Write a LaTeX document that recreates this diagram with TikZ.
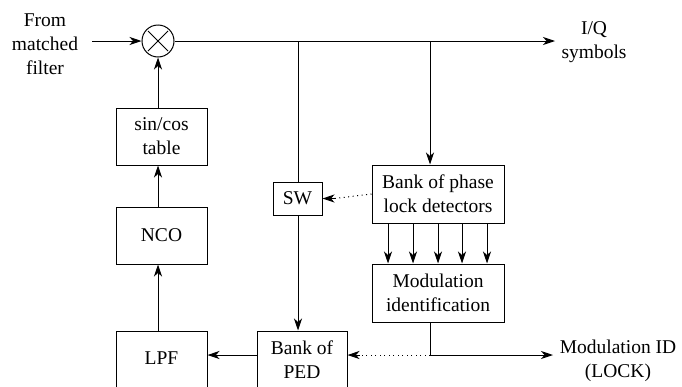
\documentclass[tikz,border=0pt]{standalone}
\usepackage{fontspec}
\setmainfont{Liberation Serif}
\newfontfamily\tms{Liberation Serif}
\usetikzlibrary{arrows.meta,calc}
\begin{document}
\begin{tikzpicture}[x=1pt,y=-1pt,
  every node/.style={font=\tms\fontsize{19.5}{24}\selectfont, align=center, inner sep=0pt},
  blk/.style={draw, line width=1pt},
  ln/.style={line width=1pt},
  arr/.style={ln, -{Stealth[length=12pt,width=8pt,inset=3.5pt]}},
  dots/.style={line width=1pt, dash pattern=on 1pt off 3.5pt}]
\useasboundingbox (0,0) rectangle (682,386);
% texts
\node (src) at (45,44) {From\\matched\\filter};
\node (iq) at (594,42) {I/Q\\symbols};
\node (modid) at (618,361) {Modulation ID\\(LOCK)};
% mixer
\node[draw, circle, line width=1pt, minimum size=32pt] (mix) at (158,41) {};
\draw[line width=0.8pt] (158-10,41-10) -- (158+10,41+10) (158-10,41+10) -- (158+10,41-10);
% blocks
\node[blk, minimum width=91pt, minimum height=57pt] (sc) at (161.5,136.5) {sin/cos\\table};
\node[blk, minimum width=91pt, minimum height=57pt] (nco) at (161.5,235.5) {NCO};
\node[blk, minimum width=49pt, minimum height=33pt] (sw) at (297.5,198.5) {SW};
\node[blk, minimum width=132pt, minimum height=58pt] (pld) at (438,194) {Bank of phase\\lock detectors};
\node[blk, minimum width=132pt, minimum height=58pt] (mod) at (438,293) {Modulation\\identification};
\node[blk, minimum width=91pt, minimum height=70pt] (lpf) at (161.5,366) {};
\node at (161.5,358) {LPF};
\node[blk, minimum width=90pt, minimum height=70pt] (ped) at (302,366) {};
\node at (302,360) {Bank of\\PED};
% coordinates
\coordinate (in) at (92,41);
\coordinate (out) at (555,41);
\coordinate (t1) at (298,41);
\coordinate (t2) at (430,41);
\coordinate (mb) at (430,355);
\coordinate (mo) at (553,355);
% connectors
\draw[arr] (in) -- (mix);
\draw[arr] (mix) -- (out);
\draw[ln] (t1) -- (sw.north -| t1);
\draw[arr] (sw.south -| t1) -- (ped.north -| t1);
\draw[arr] (t2) -- (pld.north -| t2);
\draw[arr] (sc.north -| mix) -- (mix);
\draw[arr] (nco.north -| mix) -- (sc.south -| mix);
\draw[arr] (lpf.north -| mix) -- (nco.south -| mix);
\draw[arr] (ped.west |- mb) -- (lpf.east |- mb);
\foreach \x in {388,413,438,462,487}
  \draw[arr] (pld.south -| \x,0) -- (mod.north -| \x,0);
\draw[ln] (mod.south -| mb) -- (mb);
\draw[arr] (mb) -- (mo);
\draw[dots] (mb) -- ($(ped.east |- mb)+(12,0)$);
\draw[arr] ($(ped.east |- mb)+(12,0)$) -- (ped.east |- mb);
\draw[dots] (pld.west) -- ($(sw.east)+(12,0)$);
\draw[arr] ($(sw.east)+(12,0)$) -- (sw.east);
\end{tikzpicture}
\end{document}
